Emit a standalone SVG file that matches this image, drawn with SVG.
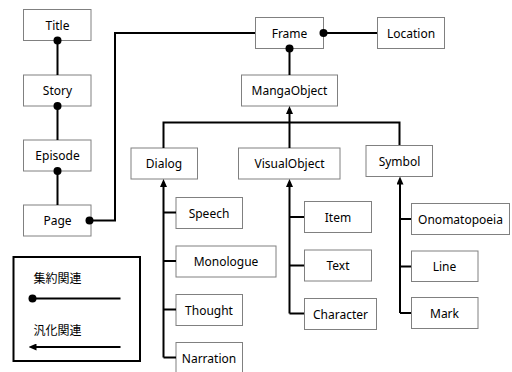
<svg xmlns="http://www.w3.org/2000/svg" width="512" height="372" viewBox="0 0 512 372">
<style>
.box{fill:#fff;stroke:#808080;stroke-width:1}
.lbl{font-family:"Noto Sans","Liberation Sans",sans-serif;font-size:12px;fill:#000;text-anchor:middle;dominant-baseline:central}
.ln{fill:none;stroke:#000;stroke-width:2}
.gen{fill:none;stroke:#000;stroke-width:2;marker-end:url(#arr)}
.dot{fill:#000}
.jp{font-family:"Noto Sans CJK JP","Noto Sans",sans-serif;font-size:12px;fill:#000}
</style>
<defs>
<marker id="arr" viewBox="0 0 8 7" refX="5" refY="3.5" markerWidth="8" markerHeight="7" markerUnits="userSpaceOnUse" orient="auto">
<path d="M0,0 L8,3.5 L0,7 z" fill="#000"/>
</marker>
</defs>
<rect width="512" height="372" fill="#fff"/>
<g id="Title"><rect class="box" x="23.5" y="9.5" width="67.5" height="31"/><text class="lbl" x="57.5" y="25">Title</text></g>
<g id="Story"><rect class="box" x="23.5" y="75" width="67.5" height="31"/><text class="lbl" x="57.5" y="90.5">Story</text></g>
<g id="Episode"><rect class="box" x="23.5" y="140" width="67.5" height="31"/><text class="lbl" x="57.5" y="155.5">Episode</text></g>
<g id="Page"><rect class="box" x="23.5" y="205" width="67.5" height="31"/><text class="lbl" x="57.5" y="220.5">Page</text></g>
<g id="Frame"><rect class="box" x="255.5" y="17.5" width="68" height="31"/><text class="lbl" x="289.5" y="33">Frame</text></g>
<g id="Location"><rect class="box" x="377.5" y="17.5" width="67" height="31"/><text class="lbl" x="411" y="33">Location</text></g>
<g id="MangaObject"><rect class="box" x="241.5" y="75" width="96" height="31"/><text class="lbl" x="289.5" y="90.5">MangaObject</text></g>
<g id="Dialog"><rect class="box" x="131" y="148" width="66.5" height="31"/><text class="lbl" x="164" y="163.5">Dialog</text></g>
<g id="VisualObject"><rect class="box" x="238.5" y="148" width="101.5" height="31"/><text class="lbl" x="289.5" y="163.5">VisualObject</text></g>
<g id="Symbol"><rect class="box" x="366" y="145.5" width="66.5" height="31"/><text class="lbl" x="399.5" y="161">Symbol</text></g>
<g id="Speech"><rect class="box" x="176" y="197.5" width="66.5" height="31"/><text class="lbl" x="209" y="213">Speech</text></g>
<g id="Monologue"><rect class="box" x="176" y="246" width="100" height="31"/><text class="lbl" x="226" y="261.5">Monologue</text></g>
<g id="Thought"><rect class="box" x="176" y="294.5" width="66.5" height="31"/><text class="lbl" x="209" y="310">Thought</text></g>
<g id="Narration"><rect class="box" x="176" y="342.5" width="66.5" height="31"/><text class="lbl" x="209" y="358">Narration</text></g>
<g id="Item"><rect class="box" x="304.5" y="201.5" width="67" height="31"/><text class="lbl" x="338" y="217">Item</text></g>
<g id="Text"><rect class="box" x="304.5" y="250" width="67" height="31"/><text class="lbl" x="338" y="265.5">Text</text></g>
<g id="Character"><rect class="box" x="304.5" y="298.5" width="72" height="31"/><text class="lbl" x="340.5" y="314">Character</text></g>
<g id="Onomatopoeia"><rect class="box" x="411.5" y="203.5" width="98" height="31"/><text class="lbl" x="460.5" y="219">Onomatopoeia</text></g>
<g id="Line"><rect class="box" x="411.5" y="251" width="66.5" height="30.5"/><text class="lbl" x="444.5" y="266.5">Line</text></g>
<g id="Mark"><rect class="box" x="411.5" y="297.5" width="66.5" height="31"/><text class="lbl" x="444.5" y="313">Mark</text></g>
<g id="connectors">
<path class="ln" d="M57.5,40 V75 M57.5,106 V140 M57.5,171 V205"/>
<path class="ln" d="M89.5,220.5 H115 V33 H255"/>
<path class="ln" d="M323.5,33 H377"/>
<path class="ln" d="M289.5,48 V75"/>
<path class="ln" d="M163.5,148 V122.5 H399.5 V145"/>
<path class="gen" d="M289.5,148 V109"/>
<path class="gen" d="M163.5,357.5 V182"/>
<path class="ln" d="M163.5,212.5 H176 M163.5,261 H176 M163.5,309.5 H176 M163.5,357.5 H176"/>
<path class="gen" d="M289.5,313.5 V182"/>
<path class="ln" d="M289.5,217 H304 M289.5,265.5 H304 M289.5,313.5 H304"/>
<path class="gen" d="M400,313 V179.5"/>
<path class="ln" d="M400,219 H411 M400,266.5 H411 M400,313 H411"/>
<circle class="dot" cx="57.5" cy="40.5" r="4"/>
<circle class="dot" cx="57.5" cy="106" r="4"/>
<circle class="dot" cx="57.5" cy="171" r="4"/>
<circle class="dot" cx="89.5" cy="220.5" r="4"/>
<circle class="dot" cx="323.5" cy="33" r="4"/>
<circle class="dot" cx="289.5" cy="48.5" r="4"/>
</g>
<g id="legend">
<rect x="13.5" y="257" width="126.5" height="104" fill="#fff" stroke="#000" stroke-width="2"/>
<text class="jp" x="33.5" y="283">集約関連</text>
<line class="ln" x1="32" y1="298.5" x2="120.5" y2="298.5"/>
<circle class="dot" cx="32.5" cy="298.5" r="4"/>
<text class="jp" x="33.5" y="335">汎化関連</text>
<line class="gen" x1="120.5" y1="347" x2="31.5" y2="347"/>
</g>
</svg>
